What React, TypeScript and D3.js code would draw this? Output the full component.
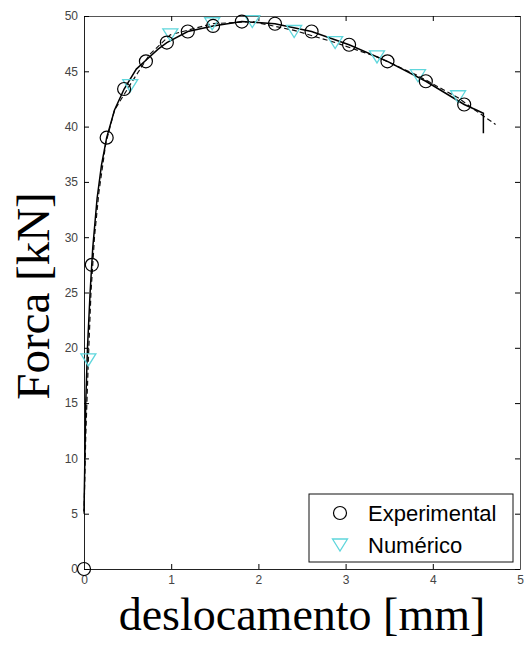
import React, { useEffect, useRef } from 'react';
import * as d3 from 'd3';

// experimental markers (mm, kN)
const expX = [0, 0.09, 0.26, 0.46, 0.71, 0.95, 1.19, 1.48, 1.81, 2.19, 2.61, 3.04, 3.48, 3.92, 4.36];
const expY = [0, 27.5, 39.0, 43.4, 45.9, 47.6, 48.6, 49.1, 49.5, 49.3, 48.6, 47.4, 45.9, 44.1, 42.0];

// numerical markers
const numX = [0.05, 0.53, 0.99, 1.47, 1.93, 2.41, 2.88, 3.36, 3.83, 4.29];
const numY = [18.9, 43.7, 48.3, 49.3, 49.5, 48.6, 47.6, 46.3, 44.6, 42.7];

// experimental curve (solid)
const expLineX = [0, 0.01, 0.02, 0.04, 0.07, 0.1, 0.15, 0.2, 0.26, 0.35, 0.46, 0.6, 0.71, 0.85, 0.95, 1.19, 1.48, 1.81, 2.19, 2.61, 3.04, 3.48, 3.92, 4.36, 4.5, 4.58, 4.58];
const expLineY = [5.2, 10, 15, 20, 25, 29, 33.5, 36.5, 39, 41.5, 43.4, 45.2, 46, 47, 47.6, 48.6, 49.1, 49.5, 49.3, 48.6, 47.4, 45.9, 44.1, 42.0, 41.5, 41.2, 39.4];

// numerical curve (dashed)
const numLineX = [0, 0.02, 0.05, 0.08, 0.12, 0.17, 0.25, 0.35, 0.53, 0.75, 0.99, 1.47, 1.93, 2.41, 2.88, 3.36, 3.83, 4.29, 4.5, 4.72];
const numLineY = [5, 12, 18.9, 25, 30, 34, 38.5, 41.5, 43.8, 46.5, 48.3, 49.3, 49.5, 48.7, 47.6, 46.3, 44.6, 42.6, 41.4, 40.2];

const xTicks = [0, 1, 2, 3, 4, 5];
const yTicks = [0, 5, 10, 15, 20, 25, 30, 35, 40, 45, 50];

const cyan = '#5fd6dc';

const Chart = () => {
  const svgRef = useRef<SVGSVGElement>(null);

  useEffect(() => {
    const margin = { top: 16, right: 9, bottom: 76, left: 84 };
    const W = 529, H = 645;
    const width = W - margin.left - margin.right;
    const height = H - margin.top - margin.bottom;

    const root = d3.select(svgRef.current).attr('width', W).attr('height', H);
    root.selectAll('*').remove();
    const svg = root.append('g').attr('transform', `translate(${margin.left},${margin.top})`);

    const x = d3.scaleLinear().domain([0, 5]).range([0, width]);
    const y = d3.scaleLinear().domain([0, 50]).range([height, 0]);

    const tickFont = 'Liberation Sans, Arial, sans-serif';
    const fmt = d3.format('d');

    // axes box with inward ticks
    svg.append('g').attr('transform', `translate(0,${height})`)
      .call(d3.axisBottom(x).tickValues(xTicks).tickFormat(d => fmt(d as number)).tickSizeInner(-5).tickSizeOuter(0).tickPadding(6))
      .call(g => g.select('.domain').attr('stroke', '#222'))
      .selectAll('text').attr('font-family', tickFont).attr('font-size', 12).attr('fill', '#444');
    svg.append('g')
      .call(d3.axisTop(x).tickValues(xTicks).tickSizeInner(-5).tickSizeOuter(0).tickFormat(() => ''))
      .call(g => g.select('.domain').attr('stroke', '#555'));
    svg.append('g')
      .call(d3.axisLeft(y).tickValues(yTicks).tickFormat(d => fmt(d as number)).tickSizeInner(-5).tickSizeOuter(0).tickPadding(6))
      .call(g => g.select('.domain').attr('stroke', '#222'))
      .selectAll('text').attr('font-family', tickFont).attr('font-size', 12).attr('fill', '#444');
    svg.append('g').attr('transform', `translate(${width},0)`)
      .call(d3.axisRight(y).tickValues(yTicks).tickSizeInner(-5).tickSizeOuter(0).tickFormat(() => ''))
      .call(g => g.select('.domain').attr('stroke', '#555'));

    const line = d3.line<number[]>()
      .x(d => x(d[0]))
      .y(d => y(d[1]));

    const expPts = expLineX.map((v, i) => [v, expLineY[i]]);
    const numPts = numLineX.map((v, i) => [v, numLineY[i]]);

    svg.append('path').datum(numPts)
      .attr('d', line)
      .attr('fill', 'none').attr('stroke', '#111').attr('stroke-width', 1.2)
      .attr('stroke-dasharray', '5,3');
    svg.append('path').datum(expPts)
      .attr('d', line)
      .attr('fill', 'none').attr('stroke', '#000').attr('stroke-width', 1.5);

    const tri = (cx: number, cy: number) => `M${cx - 7.5},${cy - 6}L${cx + 7.5},${cy - 6}L${cx},${cy + 6}Z`;

    svg.selectAll('.num')
      .data(numX.map((v, i) => [v, numY[i]]))
      .enter().append('path')
      .attr('class', 'num')
      .attr('d', d => tri(x(d[0]), y(d[1])))
      .attr('fill', 'none').attr('stroke', cyan).attr('stroke-width', 1.3);

    svg.selectAll('.exp')
      .data(expX.map((v, i) => [v, expY[i]]))
      .enter().append('circle')
      .attr('class', 'exp')
      .attr('cx', d => x(d[0])).attr('cy', d => y(d[1]))
      .attr('r', 6.5)
      .attr('fill', 'none').attr('stroke', '#000').attr('stroke-width', 1.2);

    // legend
    const lg = root.append('g').attr('transform', 'translate(309,494)');
    lg.append('rect').attr('width', 204).attr('height', 68)
      .attr('fill', '#fff').attr('stroke', '#111').attr('stroke-width', 1);
    lg.append('circle').attr('cx', 31).attr('cy', 19).attr('r', 6.5)
      .attr('fill', 'none').attr('stroke', '#000').attr('stroke-width', 1.2);
    lg.append('path').attr('d', tri(31, 51))
      .attr('fill', 'none').attr('stroke', cyan).attr('stroke-width', 1.3);
    lg.append('text').attr('x', 59).attr('y', 27).text('Experimental')
      .attr('font-family', tickFont).attr('font-size', 22).attr('fill', '#000');
    lg.append('text').attr('x', 59).attr('y', 59).text('Numérico')
      .attr('font-family', tickFont).attr('font-size', 22).attr('fill', '#000');

    // axis titles
    const serif = 'Liberation Serif, Times New Roman, serif';
    root.append('text')
      .attr('x', margin.left + x(2.5)).attr('y', 630)
      .attr('text-anchor', 'middle')
      .attr('font-family', serif).attr('font-size', 46)
      .text('deslocamento [mm]');
    root.append('text')
      .attr('transform', 'translate(49,296) rotate(-90)')
      .attr('text-anchor', 'middle')
      .attr('font-family', serif).attr('font-size', 47)
      .text('Forca [kN]');
  }, []);

  return <svg ref={svgRef} style={{ position: 'absolute', left: 0, top: 0, background: '#fff' }}></svg>;
};

export default function App() {
  return <Chart />;
}
